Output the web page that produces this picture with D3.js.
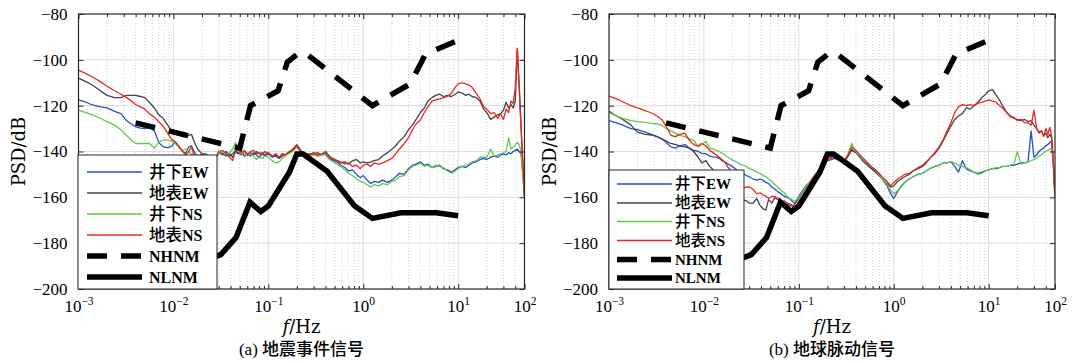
<!DOCTYPE html>
<html>
<head>
<meta charset="utf-8">
<script src="https://cdn.jsdelivr.net/npm/d3@7/dist/d3.min.js"></script>
<style>
html,body{margin:0;padding:0;background:#fff;}
svg{display:block;}
</style>
</head>
<body>
<svg id="chart" width="1072" height="363"></svg>
<script>
// ---------- DATA ----------
const freq = [
  0.001, 0.0012, 0.0014, 0.0017, 0.002, 0.0024, 0.0028, 0.0032, 0.0036, 0.004,
  0.0045, 0.005, 0.0056, 0.0063, 0.007, 0.0078, 0.0087, 0.0095, 0.0105, 0.0115,
  0.0125, 0.0135, 0.0145, 0.0155, 0.0165, 0.018, 0.02, 0.022, 0.024, 0.026,
  0.028, 0.03, 0.033, 0.036, 0.039, 0.042, 0.045, 0.048, 0.052, 0.056,
  0.06, 0.065, 0.07, 0.075, 0.08, 0.086, 0.092, 0.1, 0.11, 0.12,
  0.13, 0.14, 0.15, 0.165, 0.18, 0.2, 0.22, 0.24, 0.27, 0.3,
  0.33, 0.36, 0.4, 0.44, 0.48, 0.53, 0.58, 0.64, 0.7, 0.77,
  0.85, 0.93, 1.0, 1.1, 1.2, 1.3, 1.45, 1.6, 1.8, 2.0,
  2.2, 2.4, 2.7, 3.0, 3.3, 3.6, 4.0, 4.4, 4.8, 5.3,
  5.8, 6.4, 7.0, 7.7, 8.5, 9.3, 10, 11, 12, 13,
  14, 15.5, 17, 18.5, 20, 22, 24, 26, 28, 30,
  32, 34, 36, 38, 40, 42, 44, 46, 48, 50
];

// (a) 地震事件信号
const aEWdown = [
  -117.5, -118.5, -119.7, -120.5, -121, -122.5, -123.5, -126.5, -128, -129.2,
  -129.8, -130, -129.5, -131, -136, -138, -138.3, -137.9, -135.8, -138,
  -140, -140.8, -138, -137.5, -140, -142, -141.5, -143.5, -142.5, -144,
  -143, -140.5, -141.5, -140, -142, -141, -139.5, -140.5, -141.5, -140,
  -141, -142, -140.5, -141.5, -142.5, -141, -142, -141, -142.5, -142,
  -143, -142, -141.5, -140.5, -139.5, -137.5, -140, -141.5, -141.5, -141,
  -142, -141.5, -141, -143, -144, -144.5, -146, -147, -148.5, -148,
  -150, -151.5, -150.5, -152.5, -154, -153, -153.5, -152.5, -153.5, -152.5,
  -151, -149.5, -150, -147.5, -146, -145.5, -144.5, -146, -145.5, -147,
  -146.5, -146, -147.5, -148, -149, -148, -147, -146.5, -147, -146,
  -145, -144.5, -143.5, -143, -143.5, -142.5, -142, -142.5, -141.5, -141,
  -141.5, -140.5, -141, -140, -139.5, -139, -140, -141, -150, -160
];
const aEWsurf = [
  -108, -109.5, -111, -113.5, -115.5, -116.5, -116.5, -115.5, -115.5, -115.5,
  -116, -116.5, -118.5, -121, -124, -125.5, -128.5, -131, -132, -133,
  -133.5, -133.5, -133, -132.5, -135.5, -139, -141, -141, -143, -142,
  -143, -140, -141, -142, -141, -142.5, -140, -141, -140, -142,
  -141, -140.5, -141.5, -140, -141, -140.5, -141.5, -140.5, -142, -141.5,
  -143, -141, -141.5, -140.5, -139, -137, -139.5, -141, -141, -141,
  -140.5, -141.5, -140, -142, -143.5, -144, -145, -144.5, -145.5, -144,
  -143.5, -145, -144.5, -145, -144.5, -144, -143.5, -142, -140.5, -139,
  -137.5, -135.5, -133.5, -130.5, -128.5, -126, -123, -121, -118, -116.5,
  -115.5, -115, -116, -115.5, -116, -115, -114, -114.5, -115.5, -115,
  -116, -116.5, -118, -121.5, -123, -126, -125, -124, -123.5, -122,
  -118.5, -121, -119.5, -121, -118, -95, -112, -129.5, -145, -160
];
const aNSdown = [
  -122, -123, -124, -125.5, -127, -128.5, -130.5, -133, -135, -136.5,
  -136.5, -136.5, -136.5, -138.5, -136, -135, -135, -135.5, -136.5, -138.5,
  -139.5, -139, -140, -141.5, -140.5, -142, -143, -142, -144, -143,
  -142.5, -141, -140, -141.5, -140.5, -139, -136, -139.5, -141, -140.5,
  -142, -141, -142, -143.5, -142.5, -143, -142, -142.5, -144, -145,
  -144.5, -143, -142, -141, -140, -138, -140.5, -141.5, -142, -141.5,
  -142, -141.5, -141.5, -143.5, -144.5, -145.5, -146.5, -148, -149.5, -150.5,
  -152, -153, -153.5, -154.5, -155.5, -154.5, -155, -154, -154.5, -153,
  -152.5, -151, -150.5, -148, -146.5, -146, -145, -146.5, -146, -147,
  -146, -146.5, -147, -148.5, -149.5, -148.5, -147.5, -146.5, -146, -145.5,
  -144.5, -144, -142.5, -142.5, -142.5, -139, -142, -141.5, -141, -140.5,
  -140, -134, -139, -138, -137, -136, -137, -140, -150, -160
];
const aNSsurf = [
  -104.5, -106, -107.5, -109.5, -111.5, -113.5, -115, -116.5, -118, -119.5,
  -120.5, -121.5, -123.5, -125, -127, -129, -132, -134.5, -135.8, -138,
  -140, -141.5, -140, -138, -141.5, -143, -141, -143, -142, -144,
  -143, -140, -139.5, -141, -142.5, -144, -140, -139, -140.5, -139.5,
  -141.5, -140, -139.5, -141, -140.5, -141.5, -140, -141, -142, -141,
  -142.5, -141, -141.5, -140, -139.5, -137.5, -140, -141, -141.5, -140.5,
  -141.5, -141, -140.5, -142.5, -143, -144, -144.5, -145.5, -145, -146.5,
  -146, -147.5, -146, -145.5, -146.5, -145, -145.5, -145, -144, -143,
  -141, -139, -136.5, -134, -130.5, -128, -126.3, -123, -120.5, -118,
  -117.5, -117, -116.5, -116, -114.5, -112, -110.5, -110, -110.5, -111,
  -112, -114.5, -117, -120.5, -121.5, -123.5, -123, -125.5, -123.5, -126,
  -121.5, -123, -118, -119, -112, -95, -112, -129.5, -145, -160
];

// (b) 地球脉动信号
const bEWdown = [
  -126.5, -127.5, -128.5, -130, -130.5, -131.5, -132.5, -133.5, -134.5, -136,
  -138, -138.5, -137.5, -137, -138.5, -139.5, -140, -140.8, -141, -142,
  -142.3, -142.5, -143, -144, -144.5, -145.5, -146.5, -148, -149, -149.6,
  -150.5, -151, -152, -152.5, -152, -152.5, -153.5, -154, -155.5, -156.5,
  -157.5, -158.5, -159.5, -160, -160.5, -162, -162.5, -159.5, -157, -154.7,
  -153.5, -152.5, -151, -148.5, -146, -144, -143.5, -143, -144, -144.5,
  -142, -139.5, -140.5, -142, -143.5, -145.5, -147, -148.5, -150, -152.5,
  -155, -158.5, -160.5, -157.5, -155, -153.5, -152, -151, -150, -149.5,
  -148.5, -147.5, -146.5, -146, -145, -145, -144.5, -146.5, -149, -144,
  -147.5, -148.5, -149, -149.5, -149, -148.5, -148, -147.5, -147.5, -147,
  -146.5, -146.5, -146, -146, -145.5, -145, -145, -144.5, -131, -142.5,
  -141.5, -140, -139, -138.5, -137.5, -137, -136, -135.5, -145, -160
];
const bEWsurf = [
  -122.5, -124.5, -126, -128.5, -131.5, -132.5, -132.8, -133.5, -134.5, -135.5,
  -136.5, -137, -137.5, -138, -138.5, -140, -142.5, -145, -144, -146.5,
  -148, -149.5, -151, -152.5, -153, -154.5, -155.5, -157, -158.5, -161,
  -161.5, -162.5, -162.5, -160.5, -163.5, -165, -165.5, -161, -162.5, -160,
  -161, -162, -162.5, -163, -163.5, -164, -162.5, -160.5, -158, -155.5,
  -153.5, -151.5, -150, -147.5, -145.5, -143.5, -142.5, -143, -144, -144.5,
  -142, -139, -140.5, -142.5, -144.5, -146, -147.5, -149, -150.5, -152,
  -154, -155.5, -155, -153, -152, -151, -150, -148.5, -147.5, -146.5,
  -145, -143, -141, -138.5, -135.5, -132.5, -129, -126, -124.5, -123.5,
  -121, -121.5, -120, -118.5, -116.5, -115, -113.5, -113, -115.5, -117.5,
  -120, -123, -124.5, -125.5, -126, -126.5, -126, -127, -126.5, -128.5,
  -130, -131.5, -131, -133, -132, -134, -132.5, -134, -145, -160
];
const bNSdown = [
  -123, -124.5, -125.5, -126.5, -127, -127.3, -127.7, -128, -128.5, -130,
  -131, -132, -133, -133.5, -134.5, -135, -138, -137, -135.5, -138.5,
  -139, -139.5, -140, -140.8, -141.5, -142.5, -143.8, -144.5, -145.5, -146,
  -146.5, -147.5, -148, -149, -149.5, -150.5, -151, -152, -153, -154.5,
  -155.5, -157, -158, -159.5, -160.5, -161.2, -161.5, -160, -157.5, -155,
  -153.5, -152, -150.5, -148, -145.5, -143.5, -143, -142.5, -143.5, -144,
  -141, -136.5, -140, -142, -143.5, -145, -146.5, -148, -150, -152,
  -154.5, -157, -158.5, -157, -155.5, -153.5, -152, -151, -150, -149.5,
  -148.5, -147.5, -146.5, -146, -145, -145, -144.5, -145, -146, -146.5,
  -147, -148, -149, -150, -149.5, -148.5, -148, -147.5, -147, -147,
  -146.5, -146.5, -146, -145.5, -140, -145.5, -145, -144.5, -144, -143.5,
  -143, -142, -141.5, -140.5, -140, -139.5, -139, -138.5, -145, -160
];
const bNSsurf = [
  -115.8, -117, -118.3, -120, -121, -122.2, -123.2, -124.5, -126, -129,
  -133, -133.5, -132.5, -132, -135, -137, -137.5, -136.5, -137.5, -139.5,
  -140.5, -141.5, -142.5, -143.5, -144.5, -147, -149, -151, -154, -156,
  -155.5, -155.5, -156.5, -158.5, -158, -159, -159.5, -160.5, -159.5, -159.8,
  -160.5, -162, -161.5, -162.5, -162.7, -163.5, -164, -162, -159.5, -157,
  -154, -151.5, -150, -148, -145.5, -143.5, -143, -142.5, -143.5, -144.5,
  -141.5, -138, -139.5, -141.5, -143, -145, -146.5, -148, -149.5, -151.5,
  -153, -155, -153.5, -152, -151, -150, -149.5, -148.5, -147, -146,
  -144.5, -143, -140.5, -138, -135, -131.5, -127.5, -123, -120.5, -119.5,
  -120, -119.5, -120, -119, -118.5, -118, -117.5, -118, -118.5, -120,
  -121, -123, -125, -125, -126.5, -126, -127.5, -127.5, -128.5, -122,
  -130, -132, -131, -133.5, -130, -132.5, -129.5, -133, -145, -160
];

// Peterson noise models
const nhnmF = [0.004, 0.05, 0.0649, 0.1266, 0.1587, 0.2174, 0.2632, 1.25, 3.125, 4.545, 10];
const nhnmV = [-127.5, -138.5, -120.0, -113.5, -101.0, -96.5, -98.0, -120.0, -110.5, -97.4, -91.5];
const nlnmF = [0.001, 0.00167, 0.00305, 0.00649, 0.0099, 0.0143, 0.0222, 0.0316, 0.0457, 0.0641, 0.0833,
               0.1, 0.1667, 0.2, 0.2326, 0.4167, 0.8065, 1.25, 2.5, 5.88, 10];
const nlnmV = [-178.5, -184.4, -187.5, -185.0, -185.0, -187.5, -187.5, -185.0, -177.5, -162.1, -166.2,
               -163.8, -149.0, -141.1, -141.1, -148.6, -163.7, -169.2, -166.7, -166.7, -168.0];

const legendLabels = ["井下EW", "地表EW", "井下NS", "地表NS", "NHNM", "NLNM"];
const yTicks = [-200, -180, -160, -140, -120, -100, -80];
const xDomain = [0.001, 50];
const xTickVals = [0.001, 0.01, 0.1, 1, 10, 50];
const xTickExp = ["\u22123", "\u22122", "\u22121", "0", "1", "2"];
const titles = ["(a) 地震事件信号", "(b) 地球脉动信号"];
const yLabel = "PSD/dB";

// ---------- DRAW ----------
const svg = d3.select('#chart');
const LAT = "'Liberation Serif','Times New Roman',serif";
const CJK = "'Noto Sans CJK SC','Noto Sans CJK JP',sans-serif";
const LABF = "'DejaVu Serif',serif";
const colors = ['#2450c4', '#454545', '#63c94a', '#e8281e'];
const frameCol = '#262626';

const panels = [
  {L: 78.5, R: 524.5, T: 14, B: 289, series: [aEWdown, aEWsurf, aNSdown, aNSsurf], title: titles[0],
   ylx: 25, leg: {x0: 78, y0: 155, x1: 217, y1: 289, rows: [172, 193, 214, 235, 256, 277], lx0: 87, lx1: 142, tx: 149, fs: 16, cfs: 16.5}},
  {L: 609, R: 1055, T: 14, B: 289, series: [bEWdown, bEWsurf, bNSdown, bNSsurf], title: titles[1],
   ylx: 555.5, leg: {x0: 609, y0: 170, x1: 744, y1: 289, rows: [184, 203, 221.5, 240.5, 259.5, 278], lx0: 617, lx1: 672, tx: 675, fs: 15, cfs: 15.5}}
];

const defs = svg.append('defs');

panels.forEach((p, pi) => {
  const x = d3.scaleLog().domain(xDomain).range([p.L, p.R]);
  const y = d3.scaleLinear().domain([-200, -80]).range([p.B, p.T]);
  const g = svg.append('g');

  defs.append('clipPath').attr('id', 'clip' + pi)
    .append('rect').attr('x', p.L).attr('y', p.T).attr('width', p.R - p.L).attr('height', p.B - p.T);

  // grid
  const majors = [0.01, 0.1, 1, 10];
  const minors = x.ticks().filter(v => !majors.some(m => Math.abs(m - v) < 1e-9) && v > xDomain[0] && v < xDomain[1]);
  const grid = g.append('g');
  grid.selectAll('line.minor').data(minors).join('line')
    .attr('x1', d => x(d)).attr('x2', d => x(d)).attr('y1', p.T).attr('y2', p.B)
    .attr('stroke', '#c4c4c4').attr('stroke-width', 0.8).attr('stroke-dasharray', '1,2');
  grid.selectAll('line.major').data(majors).join('line')
    .attr('x1', d => x(d)).attr('x2', d => x(d)).attr('y1', p.T).attr('y2', p.B)
    .attr('stroke', '#dcdcdc').attr('stroke-width', 1);
  grid.selectAll('line.hy').data(yTicks.slice(1, -1)).join('line')
    .attr('x1', p.L).attr('x2', p.R).attr('y1', d => y(d)).attr('y2', d => y(d))
    .attr('stroke', '#dcdcdc').attr('stroke-width', 1);

  // data
  const plot = g.append('g').attr('clip-path', `url(#clip${pi})`);
  const line = d3.line().x(d => x(d[0])).y(d => y(d[1]));
  p.series.forEach((vals, i) => {
    plot.append('path').datum(freq.map((f, j) => [f, vals[j]]))
      .attr('d', line).attr('fill', 'none').attr('stroke', colors[i]).attr('stroke-width', 1.3)
      .attr('stroke-linejoin', 'round');
  });
  plot.append('path').datum(d3.zip(nhnmF, nhnmV)).attr('d', line)
    .attr('fill', 'none').attr('stroke', '#000').attr('stroke-width', 5.5)
    .attr('stroke-dasharray', '20,14').attr('stroke-linecap', 'butt');
  plot.append('path').datum(d3.zip(nlnmF, nlnmV)).attr('d', line)
    .attr('fill', 'none').attr('stroke', '#000').attr('stroke-width', 5.5)
    .attr('stroke-linejoin', 'miter');

  // axes
  const yAx = g.append('g').attr('transform', `translate(${p.L},0)`)
    .call(d3.axisLeft(y).tickValues(yTicks).tickSizeInner(-5).tickSizeOuter(0).tickPadding(11));
  yAx.select('.domain').remove();
  yAx.selectAll('line').attr('stroke', frameCol);
  yAx.selectAll('text').attr('font-family', LAT).attr('font-size', 17).attr('fill', '#000');

  g.append('g').attr('transform', `translate(${p.R},0)`)
    .call(d3.axisRight(y).tickValues(yTicks).tickSizeInner(-5).tickSizeOuter(0).tickFormat(''))
    .call(s => { s.select('.domain').remove(); s.selectAll('line').attr('stroke', frameCol); });

  const xAx = g.append('g').attr('transform', `translate(0,${p.B})`)
    .call(d3.axisBottom(x).tickValues(xTickVals).tickSizeInner(-5).tickSizeOuter(0).tickFormat(''));
  xAx.select('.domain').remove();
  xAx.selectAll('line').attr('stroke', frameCol);
  xAx.selectAll('.tick').each(function (d, i) {
    const t = d3.select(this).append('text').attr('y', 23).attr('fill', '#000')
      .attr('text-anchor', 'middle').attr('font-family', LAT).attr('font-size', 17);
    t.append('tspan').text('10');
    t.append('tspan').attr('dy', -7).attr('font-size', 11.5).text(xTickExp[i]);
  });
  g.append('g').attr('transform', `translate(0,${p.B})`)
    .call(d3.axisBottom(x).tickValues(minors).tickSizeInner(-3).tickSizeOuter(0).tickFormat(''))
    .call(s => { s.select('.domain').remove(); s.selectAll('line').attr('stroke', frameCol); });
  g.append('g').attr('transform', `translate(0,${p.T})`)
    .call(d3.axisTop(x).tickValues(xTickVals).tickSizeInner(-5).tickSizeOuter(0).tickFormat(''))
    .call(s => { s.select('.domain').remove(); s.selectAll('line').attr('stroke', frameCol); });
  g.append('g').attr('transform', `translate(0,${p.T})`)
    .call(d3.axisTop(x).tickValues(minors).tickSizeInner(-3).tickSizeOuter(0).tickFormat(''))
    .call(s => { s.select('.domain').remove(); s.selectAll('line').attr('stroke', frameCol); });

  // frame
  g.append('rect').attr('x', p.L).attr('y', p.T).attr('width', p.R - p.L).attr('height', p.B - p.T)
    .attr('fill', 'none').attr('stroke', frameCol).attr('stroke-width', 1.2);

  // labels
  const cx = (p.L + p.R) / 2;
  g.append('text').attr('transform', `translate(${p.ylx},${(p.T + p.B) / 2}) rotate(-90)`)
    .attr('text-anchor', 'middle').attr('font-family', LABF).attr('font-size', 18).attr('fill', '#000')
    .text(yLabel);
  const xl = g.append('text').attr('x', cx).attr('y', 333).attr('text-anchor', 'middle')
    .attr('font-family', LABF).attr('font-size', 18).attr('fill', '#000');
  xl.append('tspan').attr('font-style', 'italic').text('f');
  xl.append('tspan').text('/Hz');
  const tm = p.title.match(/^(\([a-z]\)\s*)(.*)$/);
  const tt = g.append('text').attr('x', cx).attr('y', 355).attr('text-anchor', 'middle')
    .attr('font-size', 17).attr('fill', '#000');
  tt.append('tspan').attr('font-family', LAT).text(tm[1]);
  tt.append('tspan').attr('font-family', CJK).attr('font-weight', 500).text(tm[2]);

  // legend
  const lg = g.append('g');
  const L = p.leg;
  lg.append('rect').attr('x', L.x0).attr('y', L.y0).attr('width', L.x1 - L.x0).attr('height', L.y1 - L.y0)
    .attr('fill', '#fff').attr('stroke', frameCol).attr('stroke-width', 1);
  legendLabels.forEach((lab, i) => {
    const yy = L.rows[i];
    const ln = lg.append('line').attr('x1', L.lx0).attr('x2', L.lx1).attr('y1', yy).attr('y2', yy);
    if (i < 4) ln.attr('stroke', colors[i]).attr('stroke-width', 1.3);
    else {
      ln.attr('stroke', '#000').attr('stroke-width', 5.5);
      if (i === 4) ln.attr('stroke-dasharray', '20,14');
    }
    const m = lab.match(/^([\u4e00-\u9fff]*)(.*)$/);
    const t = lg.append('text').attr('x', L.tx).attr('y', yy).attr('dy', '0.36em')
      .attr('font-size', L.fs).attr('fill', '#000');
    if (m[1]) t.append('tspan').attr('font-family', CJK).attr('font-weight', 500).attr('font-size', L.cfs).text(m[1]);
    t.append('tspan').attr('font-family', LAT).attr('font-weight', 'bold').text(m[2]);
  });
});
</script>
</body>
</html>
